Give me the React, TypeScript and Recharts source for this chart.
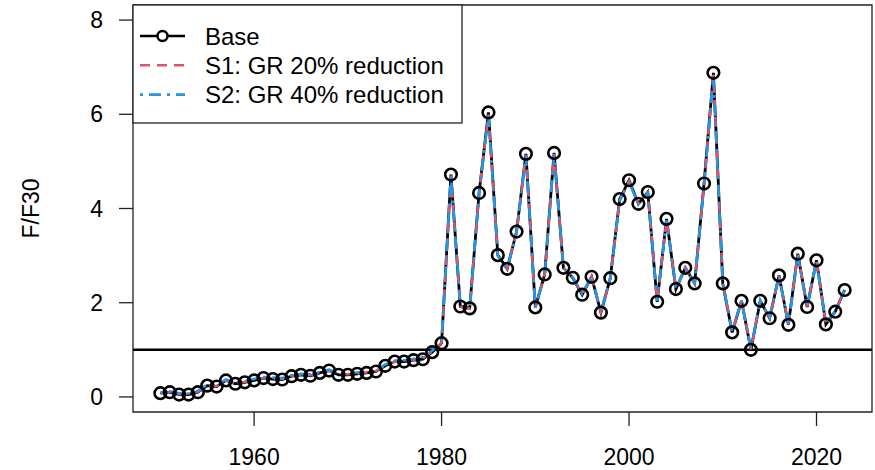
import React from 'react';
import { LineChart, Line, XAxis, YAxis, ReferenceLine, ReferenceArea } from 'recharts';

const years = [
  1950, 1951, 1952, 1953, 1954, 1955, 1956, 1957, 1958, 1959,
  1960, 1961, 1962, 1963, 1964, 1965, 1966, 1967, 1968, 1969,
  1970, 1971, 1972, 1973, 1974, 1975, 1976, 1977, 1978, 1979,
  1980, 1981, 1982, 1983, 1984, 1985, 1986, 1987, 1988, 1989,
  1990, 1991, 1992, 1993, 1994, 1995, 1996, 1997, 1998, 1999,
  2000, 2001, 2002, 2003, 2004, 2005, 2006, 2007, 2008, 2009,
  2010, 2011, 2012, 2013, 2014, 2015, 2016, 2017, 2018, 2019,
  2020, 2021, 2022, 2023,
];

const base = [
  0.08, 0.10, 0.05, 0.05, 0.10, 0.24, 0.22, 0.35, 0.28, 0.31,
  0.35, 0.40, 0.38, 0.37, 0.44, 0.47, 0.45, 0.51, 0.56, 0.47,
  0.47, 0.49, 0.51, 0.54, 0.66, 0.75, 0.75, 0.78, 0.80, 0.95,
  1.14, 4.72, 1.92, 1.88, 4.33, 6.04, 3.01, 2.72, 3.51, 5.16,
  1.90, 2.60, 5.18, 2.74, 2.53, 2.17, 2.55, 1.79, 2.52, 4.20,
  4.60, 4.10, 4.35, 2.02, 3.78, 2.29, 2.74, 2.41, 4.53, 6.88,
  2.41, 1.37, 2.04, 1.00, 2.04, 1.67, 2.58, 1.53, 3.04, 1.91,
  2.90, 1.54, 1.81, 2.27,
];

const s1 = [
  0.08, 0.10, 0.06, 0.06, 0.11, 0.24, 0.23, 0.35, 0.29, 0.32,
  0.36, 0.40, 0.39, 0.38, 0.44, 0.47, 0.46, 0.51, 0.56, 0.48,
  0.48, 0.50, 0.52, 0.55, 0.67, 0.75, 0.76, 0.79, 0.82, 0.96,
  1.15, 4.70, 1.92, 1.88, 4.32, 6.00, 3.00, 2.72, 3.50, 5.14,
  1.90, 2.60, 5.16, 2.74, 2.53, 2.18, 2.55, 1.80, 2.52, 4.18,
  4.58, 4.10, 4.34, 2.03, 3.76, 2.30, 2.74, 2.41, 4.51, 6.84,
  2.42, 1.38, 2.04, 1.01, 2.04, 1.68, 2.57, 1.54, 3.02, 1.92,
  2.88, 1.55, 1.82, 2.26,
];

const s2 = [
  0.09, 0.12, 0.08, 0.07, 0.13, 0.26, 0.25, 0.37, 0.31, 0.34,
  0.38, 0.42, 0.41, 0.40, 0.46, 0.49, 0.48, 0.53, 0.58, 0.50,
  0.50, 0.52, 0.54, 0.57, 0.69, 0.77, 0.78, 0.81, 0.85, 0.98,
  1.17, 4.68, 1.94, 1.90, 4.30, 5.96, 3.00, 2.72, 3.49, 5.12,
  1.91, 2.60, 5.14, 2.74, 2.54, 2.19, 2.56, 1.81, 2.52, 4.16,
  4.56, 4.09, 4.33, 2.04, 3.75, 2.30, 2.74, 2.42, 4.49, 6.80,
  2.42, 1.39, 2.05, 1.02, 2.05, 1.69, 2.57, 1.55, 3.01, 1.93,
  2.87, 1.56, 1.82, 2.26,
];

const xTicks = [1960, 1980, 2000, 2020];
const yTicks = [0, 2, 4, 6, 8];
const xDomain: [number, number] = [1947.08, 2025.92];
const yDomain: [number, number] = [-0.32, 8.32];

const FONT = '"Liberation Sans", Arial, sans-serif';
const PINK = '#DF536B';
const BLUE = '#2297E6';

const data = years.map((year, i) => ({ year, base: base[i], s1: s1[i], s2: s2[i] }));

function YLabel(props: any) {
  const vb = props.viewBox || {};
  const x = (vb.x ?? 0) + 31;
  const y = (vb.y ?? 0) + (vb.height ?? 0) / 2;
  return (
    <text
      x={x}
      y={y}
      transform={`rotate(-90, ${x}, ${y})`}
      textAnchor="middle"
      dominantBaseline="central"
      fontSize={23}
      fontFamily={FONT}
      fill="#000"
    >
      F/F30
    </text>
  );
}

function PlotLegend() {
  const rows = [
    { label: 'Base', color: '#000', dash: undefined, dot: true },
    { label: 'S1: GR 20% reduction', color: PINK, dash: '10 7', dot: false },
    { label: 'S2: GR 40% reduction', color: BLUE, dash: '3 6 12 6', dot: false },
  ];
  return (
    <svg
      width={331}
      height={120}
      style={{ position: 'absolute', left: 132, top: 4 }}
    >
      <rect x={1} y={1} width={329} height={118} fill="#fff" stroke="#222" strokeWidth={1.3} />
      {rows.map((r, i) => {
        const cy = 32 + i * 29.3;
        return (
          <g key={r.label}>
            <line x1={8} x2={53} y1={cy} y2={cy} stroke={r.color} strokeWidth={2.6} strokeDasharray={r.dash} />
            {r.dot && <circle cx={30.5} cy={cy} r={5} fill="#fff" stroke="#000" strokeWidth={2.4} />}
            <text x={73} y={cy} dominantBaseline="central" fontSize={24} fontFamily={FONT} fill="#000">
              {r.label}
            </text>
          </g>
        );
      })}
    </svg>
  );
}

export default function App() {
  return (
    <div style={{ position: 'absolute', left: 0, top: 0, width: 875, height: 470, background: '#fff' }}>
      <LineChart width={875} height={470} data={data} margin={{ top: 5, right: 3, bottom: 0, left: 0 }}>
        <XAxis
          dataKey="year"
          type="number"
          domain={xDomain}
          ticks={xTicks}
          allowDataOverflow
          height={58}
          axisLine={false}
          tickSize={14}
          tickMargin={23}
          tickLine={{ stroke: '#222', strokeWidth: 1.3 }}
          tick={{ fill: '#000', fontSize: 23, fontFamily: FONT }}
        />
        <YAxis
          type="number"
          domain={yDomain}
          ticks={yTicks}
          allowDataOverflow
          width={133}
          axisLine={false}
          tickSize={14}
          tickMargin={16}
          tickLine={{ stroke: '#222', strokeWidth: 1.3 }}
          tick={{ fill: '#000', fontSize: 23, fontFamily: FONT }}
          label={<YLabel />}
        />
        <ReferenceArea
          x1={xDomain[0]}
          x2={xDomain[1]}
          y1={yDomain[0]}
          y2={yDomain[1]}
          fill="none"
          stroke="#222"
          strokeWidth={1.3}
          ifOverflow="visible"
        />
        <ReferenceLine y={1} stroke="#000" strokeWidth={2.6} />
        <Line
          dataKey="base"
          type="linear"
          stroke="#000"
          strokeWidth={2.8}
          dot={{ r: 5.8, stroke: '#000', strokeWidth: 2.6, fill: 'none' }}
          activeDot={false}
          isAnimationActive={false}
        />
        <Line
          dataKey="s1"
          type="linear"
          stroke={PINK}
          strokeWidth={2.6}
          strokeDasharray="10 7"
          dot={false}
          activeDot={false}
          isAnimationActive={false}
        />
        <Line
          dataKey="s2"
          type="linear"
          stroke={BLUE}
          strokeWidth={2.6}
          strokeDasharray="3 6 12 6"
          dot={false}
          activeDot={false}
          isAnimationActive={false}
        />
      </LineChart>
      <PlotLegend />
    </div>
  );
}
